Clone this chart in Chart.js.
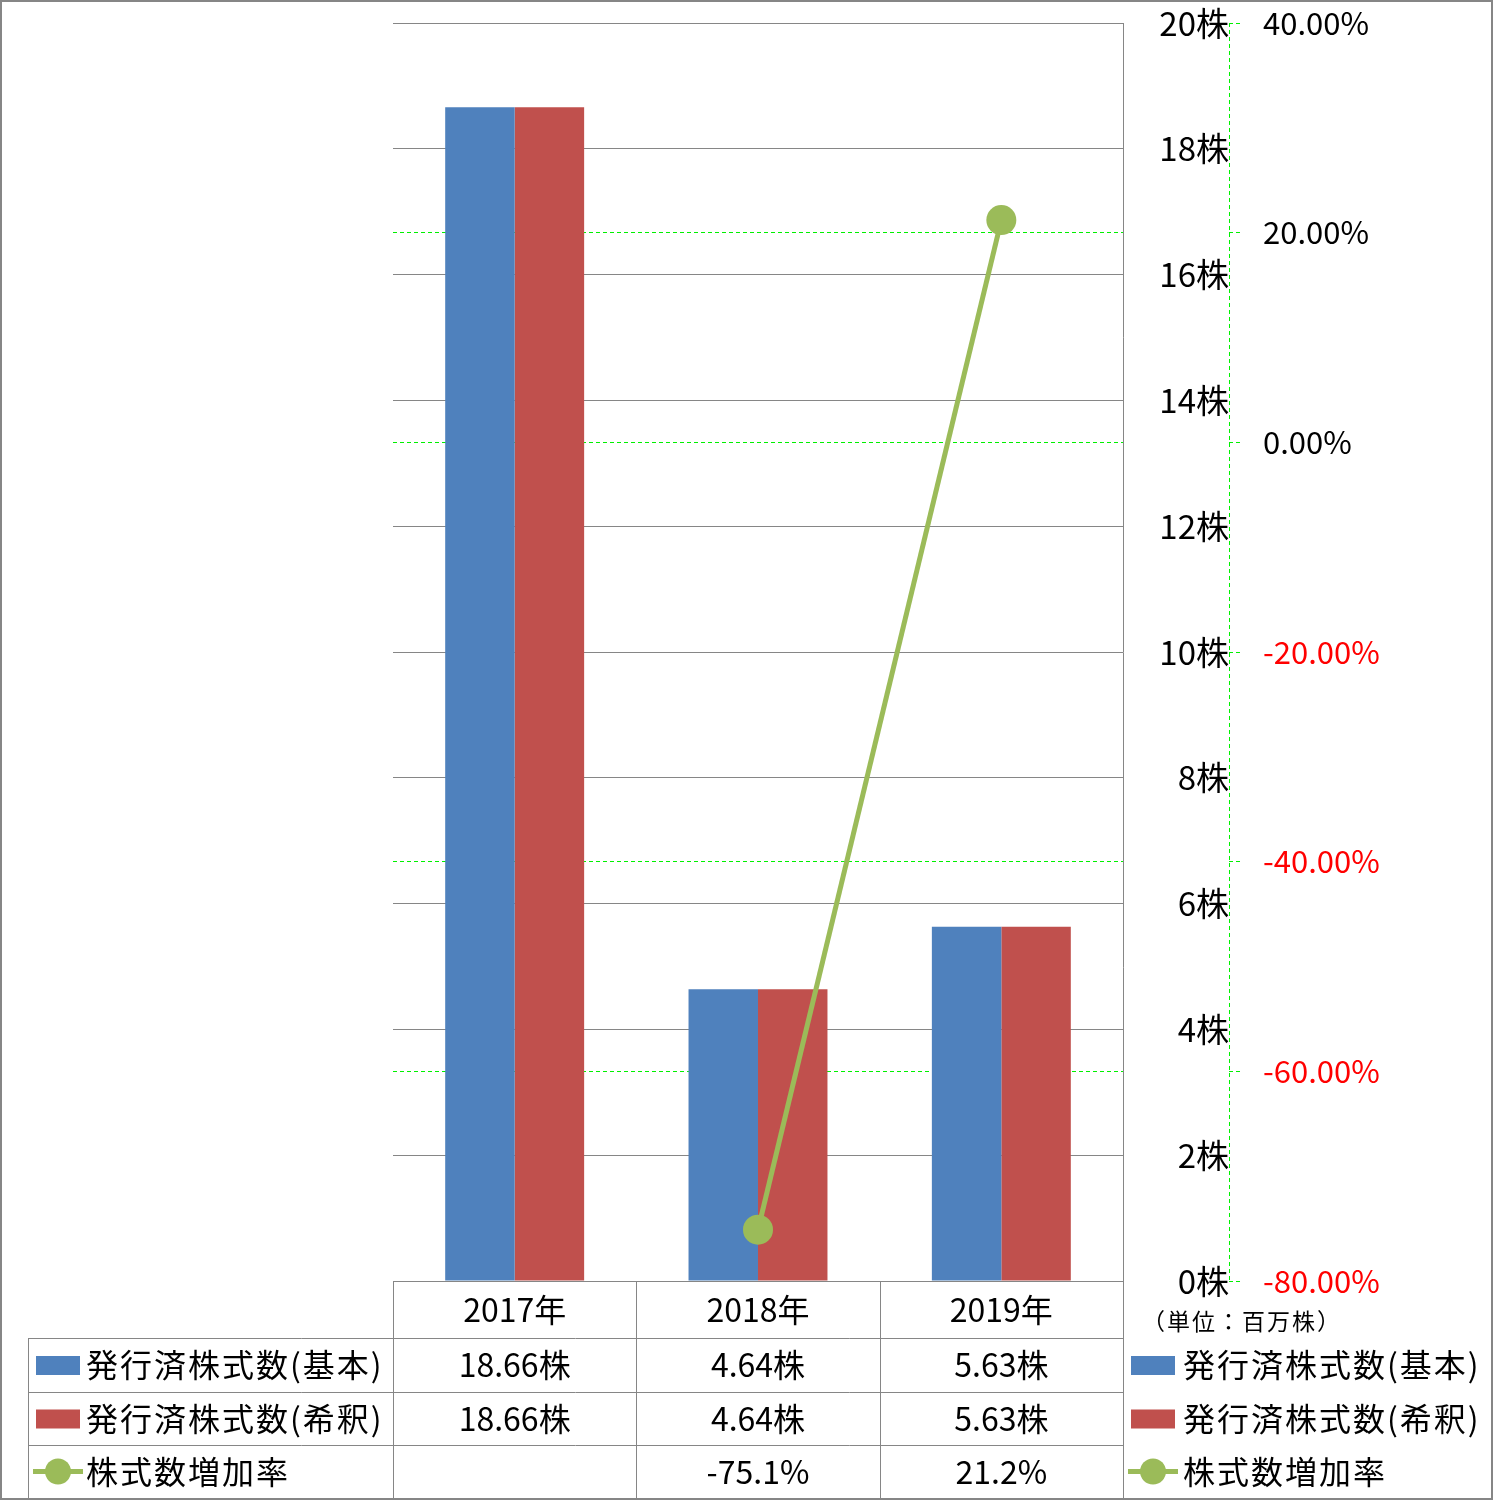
<!DOCTYPE html>
<html>
<head>
<meta charset="utf-8">
<script src="https://cdn.jsdelivr.net/npm/chart.js@4"></script>
<style>
body { margin: 0; background: #fff; }
#wrap { width: 1493px; height: 1500px; }
</style>
</head>
<body>
<div id="wrap"><canvas id="c"></canvas></div>
<script>
const years = ['2017年', '2018年', '2019年'];
const basicShares = [18.66, 4.64, 5.63];
const dilutedShares = [18.66, 4.64, 5.63];
const growthRate = [null, -75.1, 21.2];
const seriesNames = ['発行済株式数(基本)', '発行済株式数(希釈)', '株式数増加率'];
const unitLabel = '（単位：百万株）';

const FONT = "'Noto Sans CJK JP', 'Noto Sans', sans-serif";
const GRID = '#868686';
const GREEN_DASH = '#00f000';
const colors = ['#4f81bd', '#c0504d', '#9bbb59'];

function fmtShares(v) { return v.toFixed(2) + '株'; }
function fmtRate(v) { return v == null ? '' : v.toFixed(1) + '%'; }

// legend symbol: box for bars, line with dot for the rate
function drawKey(ctx, i, x, yc) {
    if (i < 2) {
        ctx.fillStyle = colors[i];
        ctx.fillRect(x, yc - 9, 44, 19);
    } else {
        ctx.strokeStyle = colors[2];
        ctx.lineWidth = 5;
        ctx.beginPath();
        ctx.moveTo(x - 3, yc);
        ctx.lineTo(x + 47, yc);
        ctx.stroke();
        ctx.fillStyle = colors[2];
        ctx.beginPath();
        ctx.arc(x + 22, yc, 13, 0, Math.PI * 2);
        ctx.fill();
    }
}

// data table under the plot + legend on the right
const tablePlugin = {
    id: 'dataTable',
    afterDraw(chart) {
        const ctx = chart.ctx;
        const area = chart.chartArea;
        const y1 = chart.scales.y1;
        const xs = chart.scales.x;
        const rows = [area.bottom, 1338, 1392, 1445, 1498];
        const colW = (area.right - area.left) / years.length;
        const tableLeft = 28;

        ctx.save();
        ctx.strokeStyle = GRID;
        ctx.lineWidth = 1;
        ctx.beginPath();
        ctx.moveTo(area.left, Math.round(rows[0]) + 0.5);
        ctx.lineTo(area.right, Math.round(rows[0]) + 0.5);
        for (let r = 1; r < rows.length; r++) {
            ctx.moveTo(tableLeft, rows[r] + 0.5);
            ctx.lineTo(area.right, rows[r] + 0.5);
        }
        ctx.moveTo(tableLeft + 0.5, rows[1]);
        ctx.lineTo(tableLeft + 0.5, rows[4]);
        for (let i = 0; i <= years.length; i++) {
            const lx = Math.round(area.left + i * colW) + 0.5;
            ctx.moveTo(lx, rows[0]);
            ctx.lineTo(lx, rows[4]);
        }
        ctx.stroke();

        // dashed secondary axis line
        ctx.strokeStyle = GREEN_DASH;
        ctx.setLineDash([4, 3]);
        ctx.beginPath();
        ctx.moveTo(Math.round(y1.left) + 0.5, area.top);
        ctx.lineTo(Math.round(y1.left) + 0.5, area.bottom);
        ctx.stroke();
        ctx.setLineDash([]);

        ctx.font = '32px ' + FONT;
        ctx.textBaseline = 'middle';
        ctx.textAlign = 'center';
        ctx.fillStyle = '#000';
        const rowMid = r => (rows[r] + rows[r + 1]) / 2;
        const cellVals = [basicShares.map(fmtShares), dilutedShares.map(fmtShares), growthRate.map(fmtRate)];
        years.forEach((yr, i) => {
            const cx = xs.getPixelForValue(i);
            ctx.fillText(yr, cx, rowMid(0));
            for (let r = 0; r < 3; r++) {
                ctx.fillText(cellVals[r][i], cx, rowMid(r + 1));
            }
        });

        ctx.letterSpacing = '2px';
        for (let r = 0; r < 3; r++) {
            const yc = rowMid(r + 1);
            drawKey(ctx, r, 36, yc);
            drawKey(ctx, r, 1131, yc);
            ctx.fillStyle = '#000';
            ctx.textAlign = 'left';
            ctx.fillText(seriesNames[r], 86, yc);
            ctx.fillText(seriesNames[r], 1183, yc);
        }

        ctx.font = '23px ' + FONT;
        ctx.letterSpacing = '2px';
        ctx.fillText(unitLabel, 1142, rowMid(0) + 12);
        ctx.letterSpacing = '0px';

        ctx.strokeStyle = GRID;
        ctx.lineWidth = 2;
        ctx.strokeRect(1, 1, chart.width - 2, chart.height - 2);
        ctx.restore();
    }
};

const chart = new Chart(document.getElementById('c'), {
    type: 'bar',
    data: {
        labels: years,
        datasets: [{
            label: seriesNames[0],
            data: basicShares,
            yAxisID: 'y',
            backgroundColor: colors[0],
            categoryPercentage: 0.571,
            barPercentage: 1,
            order: 1
        }, {
            label: seriesNames[1],
            data: dilutedShares,
            yAxisID: 'y',
            backgroundColor: colors[1],
            categoryPercentage: 0.571,
            barPercentage: 1,
            order: 1
        }, {
            type: 'line',
            label: seriesNames[2],
            data: growthRate,
            yAxisID: 'y1',
            borderColor: colors[2],
            backgroundColor: colors[2],
            borderWidth: 5,
            pointRadius: 15,
            pointBorderWidth: 0,
            order: 0
        }]
    },
    options: {
        responsive: true,
        maintainAspectRatio: false,
        animation: false,
        events: [],
        layout: {
            padding: { left: 393, top: 23, right: 0, bottom: 219 }
        },
        scales: {
            x: { display: false },
            y: {
                position: 'right',
                weight: 0,
                min: 0,
                max: 20,
                ticks: {
                    stepSize: 2,
                    callback: v => v + '株',
                    color: '#000',
                    font: { family: FONT, size: 33 },
                    padding: 27,
                    crossAlign: 'far'
                },
                grid: { color: GRID, lineWidth: 1, drawTicks: false },
                border: { color: GRID, width: 1 },
                afterFit: s => { s.width = 106; s.paddingTop = 0; s.paddingBottom = 0; }
            },
            y1: {
                position: 'right',
                weight: 1,
                min: -80,
                max: 40,
                ticks: {
                    stepSize: 20,
                    callback: v => v.toFixed(2) + '%',
                    color: c => c.tick.value < 0 ? '#ff0000' : '#000',
                    font: { family: FONT, size: 31 },
                    padding: 23
                },
                grid: {
                    color: c => (c.tick && (c.tick.value === 40 || c.tick.value === -20)) ? 'rgba(0,0,0,0)' : GREEN_DASH,
                    lineWidth: 1,
                    tickLength: 11,
                    tickColor: GREEN_DASH,
                    tickBorderDash: [4, 3]
                },
                border: { display: false, dash: [4, 3] },
                afterFit: s => { s.width = 264; s.paddingTop = 0; s.paddingBottom = 0; }
            }
        },
        plugins: {
            legend: { display: false },
            tooltip: { enabled: false }
        }
    },
    plugins: [tablePlugin]
});
</script>
</body>
</html>
